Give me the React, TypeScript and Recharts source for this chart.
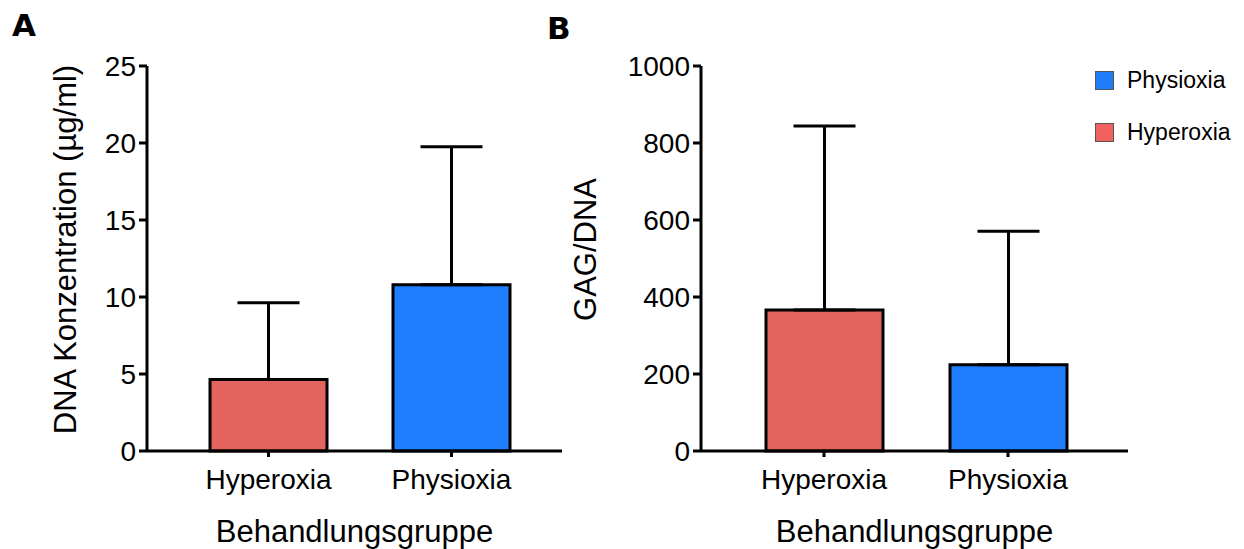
import React from 'react';
import { BarChart, Bar, XAxis, YAxis, ErrorBar, Cell, Legend, Label } from 'recharts';

// Behandlungsgruppen
const groups = ['Hyperoxia', 'Physioxia'];

// Panel A: DNA Konzentration (µg/ml), mean + upper SD
const dnaMeans = [4.65, 10.8];
const dnaSdUpper = [4.97, 8.96];
const dnaTicks = [0, 5, 10, 15, 20, 25];

// Panel B: GAG/DNA, mean + upper SD
const gagMeans = [366, 224];
const gagSdUpper = [478, 347];
const gagTicks = [0, 200, 400, 600, 800, 1000];

const legendNames = ['Physioxia', 'Hyperoxia'];

const barColors: Record<string, string> = { Hyperoxia: '#E3645F', Physioxia: '#1F7EFE' };
const legendColors: Record<string, string> = { Hyperoxia: '#F0615F', Physioxia: '#1F7BF7' };

const FONT = '"Liberation Sans", Arial, Helvetica, sans-serif';

const dataA = groups.map((g, i) => ({ group: g, value: dnaMeans[i], err: [0, dnaSdUpper[i]] }));
const dataB = groups.map((g, i) => ({ group: g, value: gagMeans[i], err: [0, gagSdUpper[i]] }));

const axisProps = {
  axisLine: { stroke: '#000', strokeWidth: 3 },
  tickLine: { stroke: '#000', strokeWidth: 3 },
};

const yLabel = (text: string, dx: number) => (props: any) => {
  const vb = props.viewBox || { x: 0, y: 0, width: 0, height: 0 };
  const x = vb.x + dx;
  const y = vb.y + vb.height / 2 - 9;
  return (
    <text x={x} y={y} transform={`rotate(-90 ${x} ${y})`} textAnchor="middle" dominantBaseline="central"
      fontSize={31} fontFamily={FONT} fill="#000">{text}</text>
  );
};

const xLabel = (props: any) => {
  const vb = props.viewBox || { x: 0, y: 0, width: 0, height: 0 };
  return (
    <text x={vb.x + vb.width / 2} y={542} textAnchor="middle" fontSize={31} fontFamily={FONT} fill="#000">
      Behandlungsgruppe
    </text>
  );
};

const renderLegend = () => (
  <div style={{ fontFamily: FONT }}>
    {legendNames.map((n) => (
      <div key={n} style={{ display: 'flex', alignItems: 'center', height: 52 }}>
        <span style={{ width: 19, height: 19, background: legendColors[n], border: '1px solid #555', boxSizing: 'border-box', marginRight: 13 }} />
        <span style={{ fontSize: 23, color: '#000' }}>{n}</span>
      </div>
    ))}
  </div>
);

const tickStyle = { fontSize: 28, fill: '#000', fontFamily: FONT };

export default function App() {
  return (
    <div style={{ position: 'absolute', left: 0, top: 0, width: 1244, height: 549, background: '#fff', fontFamily: FONT }}>
      <div style={{ position: 'absolute', left: 12, top: 7, fontSize: 31, fontWeight: 900, fontFamily: '"DejaVu Sans", sans-serif' }}>A</div>
      <div style={{ position: 'absolute', left: 547, top: 10, fontSize: 31, fontWeight: 900, fontFamily: '"DejaVu Sans", sans-serif' }}>B</div>

      <div style={{ position: 'absolute', left: 0, top: 0 }}>
        <BarChart width={570} height={549} data={dataA} margin={{ top: 66, right: 8, bottom: 0, left: 0 }}>
          <XAxis dataKey="group" height={98} padding={{ left: 30, right: 19 }} tickSize={6} tickMargin={12}
            tick={tickStyle} {...axisProps}>
            <Label content={xLabel} />
          </XAxis>
          <YAxis width={147} domain={[0, 25]} ticks={dnaTicks} interval={0} tickSize={8} tickMargin={3}
            tick={tickStyle} {...axisProps}>
            <Label content={yLabel('DNA Konzentration (µg/ml)', 65)} />
          </YAxis>
          <Bar dataKey="value" barSize={117} stroke="#000" strokeWidth={3} isAnimationActive={false}>
            {dataA.map((d) => <Cell key={d.group} fill={barColors[d.group]} />)}
            <ErrorBar dataKey="err" direction="y" width={31} stroke="#000" strokeWidth={3} isAnimationActive={false} />
          </Bar>
        </BarChart>
      </div>

      <div style={{ position: 'absolute', left: 555, top: 0 }}>
        <BarChart width={689} height={549} data={dataB} margin={{ top: 66, right: 116, bottom: 0, left: 0 }}>
          <XAxis dataKey="group" height={98} padding={{ left: 31, right: 28 }} tickSize={6} tickMargin={12}
            tick={tickStyle} {...axisProps}>
            <Label content={xLabel} />
          </XAxis>
          <YAxis width={146} domain={[0, 1000]} ticks={gagTicks} interval={0} tickSize={8} tickMargin={3}
            tick={tickStyle} {...axisProps}>
            <Label content={yLabel('GAG/DNA', 30)} />
          </YAxis>
          <Legend layout="vertical" align="center" verticalAlign="middle" content={renderLegend}
            wrapperStyle={{ top: 54, left: 540, width: 150 }} />
          <Bar dataKey="value" barSize={117} stroke="#000" strokeWidth={3} isAnimationActive={false}>
            {dataB.map((d) => <Cell key={d.group} fill={barColors[d.group]} />)}
            <ErrorBar dataKey="err" direction="y" width={31} stroke="#000" strokeWidth={3} isAnimationActive={false} />
          </Bar>
        </BarChart>
      </div>
    </div>
  );
}
